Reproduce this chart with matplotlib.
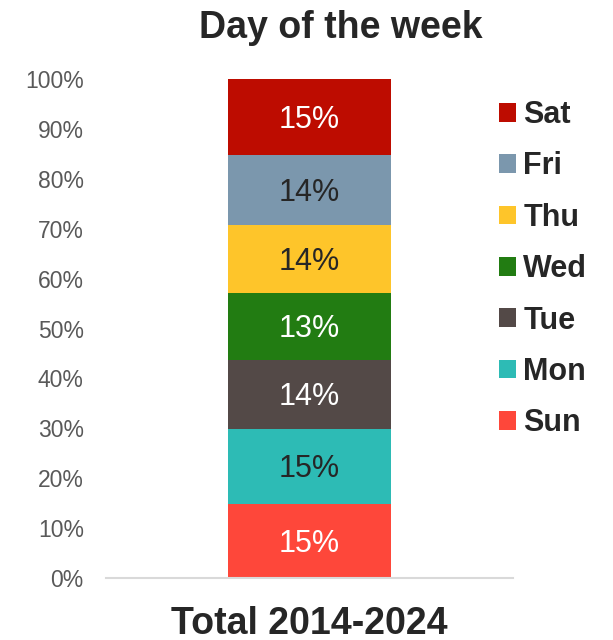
import matplotlib
matplotlib.use("Agg")
import matplotlib.pyplot as plt
from matplotlib.patches import Patch

plt.rcParams['font.family'] = ['Liberation Sans', 'DejaVu Sans']

# share of incidents per day of week, 2014-2024 (percent)
days = ["Sun", "Mon", "Tue", "Wed", "Thu", "Fri", "Sat"]
shares = [14.9, 15.0, 13.8, 13.5, 13.6, 14.0, 15.2]
labels = ["15%", "15%", "14%", "13%", "14%", "14%", "15%"]
colors = ["#FE473A", "#2DBBB5", "#534947", "#227C12", "#FEC52A", "#7B97AD", "#BD0C00"]
text_colors = ["white", "#262626", "white", "white", "#262626", "#262626", "white"]
category = "Total 2014-2024"

fig = plt.figure(figsize=(6.13, 6.4), dpi=100)
ax = fig.add_axes([106 / 613, 62 / 640, 407 / 613, 499 / 640])

bottom = 0
for day, val, lab, col, tcol in zip(days, shares, labels, colors, text_colors):
    ax.bar(0, val, width=1.0, bottom=bottom, color=col, label=day)
    # nudge down a bit so the digits look centred in the segment
    ax.annotate(lab, (0, bottom + val / 2), xytext=(0, -3), textcoords='offset pixels',
                ha='center', va='center', fontsize=22, color=tcol)
    bottom += val

ax.set_xlim(-1.25, 1.25)
ax.set_ylim(0, 100)
ax.set_yticks(range(0, 101, 10))
ax.set_yticklabels([f"{t}%" for t in range(0, 101, 10)])
ax.set_xticks([])
ax.tick_params(axis='y', length=0, pad=16, labelsize=16.5, labelcolor="#595959")
for s in ["top", "right", "left"]:
    ax.spines[s].set_visible(False)
ax.spines["bottom"].set_color("#D9D9D9")
ax.spines["bottom"].set_linewidth(1.5)

fig.text(341 / 613, 1 - 38 / 640, "Day of the week", ha='center', va='baseline',
         fontsize=27, fontweight='bold', color="#262626")
fig.text(309.5 / 613, 1 - 634 / 640, category, ha='center', va='baseline',
         fontsize=27, fontweight='bold', color="#262626")

handles = [Patch(facecolor=c, label=d) for d, c in zip(days, colors)][::-1]
leg = fig.legend(handles=handles, loc='upper left', bbox_to_anchor=(499 / 613, 1 - 100 / 640),
                 frameon=False, borderpad=0, borderaxespad=0,
                 handlelength=0.56, handleheight=0.56, handletextpad=0.23,
                 labelspacing=0.70, prop={'size': 22, 'weight': 'bold'})
for t in leg.get_texts():
    t.set_color("#262626")

fig.savefig("out.png", dpi=100)
